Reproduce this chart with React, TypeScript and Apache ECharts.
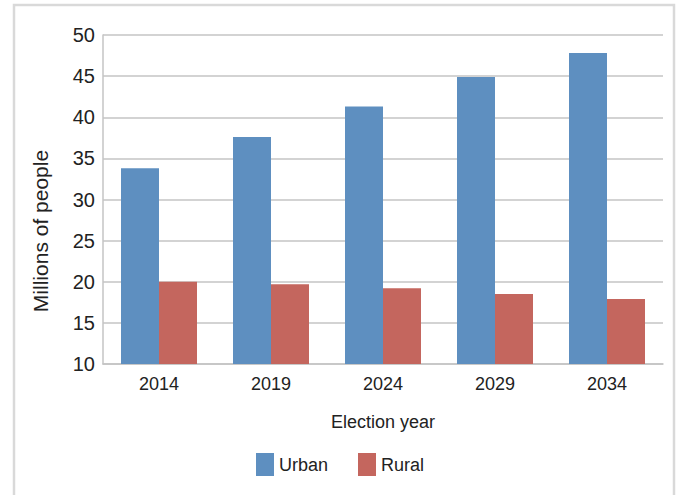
import React, { useEffect, useRef } from "react";
import * as echarts from "echarts";

const years = ["2014", "2019", "2024", "2029", "2034"];
const urban = [33.8, 37.6, 41.3, 44.9, 47.8];
const rural = [20.0, 19.7, 19.2, 18.5, 17.9];

const FONT = "Liberation Sans";

export default function App() {
  const ref = useRef<HTMLDivElement>(null);
  useEffect(() => {
    if (!ref.current) return;
    const chart = echarts.init(ref.current, null, { renderer: "svg" });
    chart.setOption({
      animation: false,
      backgroundColor: "#ffffff",
      textStyle: { fontFamily: FONT },
      graphic: [
        {
          type: "rect",
          shape: { x: 14, y: 5, width: 660, height: 520 },
          style: { fill: "none", stroke: "#d9d9d9", lineWidth: 2.5 },
          silent: true,
        },
        {
          type: "text",
          x: 40,
          y: 231,
          rotation: Math.PI / 2,
          style: {
            text: "Millions of people",
            fontFamily: FONT,
            fontSize: 21,
            fill: "#222",
            align: "center",
            verticalAlign: "middle",
          },
          silent: true,
        },
      ],
      grid: { left: 103, right: 17, top: 35, bottom: 131 },
      legend: {
        bottom: 14,
        left: "center",
        itemWidth: 18,
        itemHeight: 23,
        itemGap: 30,
        icon: "rect",
        textStyle: { fontFamily: FONT, fontSize: 18, color: "#222" },
        data: ["Urban", "Rural"],
      },
      xAxis: {
        type: "category",
        data: years,
        name: "Election year",
        nameLocation: "middle",
        nameGap: 49,
        nameTextStyle: { fontFamily: FONT, fontSize: 18, color: "#222" },
        axisLine: { lineStyle: { color: "#c4c4c4", width: 1.5 } },
        axisTick: { show: false },
        axisLabel: { fontFamily: FONT, fontSize: 18, color: "#222", margin: 11 },
      },
      yAxis: {
        type: "value",
        min: 10,
        max: 50,
        interval: 5,
        axisLine: { show: true, lineStyle: { color: "#c4c4c4", width: 1.5 } },
        axisTick: { show: false },
        axisLabel: { fontFamily: FONT, fontSize: 20, color: "#222", margin: 8 },
        splitLine: { lineStyle: { color: "#c4c4c4", width: 1.5 } },
      },
      series: [
        {
          name: "Urban",
          type: "bar",
          data: urban,
          barWidth: 38,
          barGap: "0%",
          itemStyle: { color: "#5e8fc0" },
        },
        {
          name: "Rural",
          type: "bar",
          data: rural,
          barWidth: 38,
          barGap: "0%",
          itemStyle: { color: "#c4665e" },
        },
      ],
    });
    return () => chart.dispose();
  }, []);
  return (
    <div
      ref={ref}
      style={{ position: "fixed", left: 0, top: 0, width: 680, height: 495 }}
    />
  );
}
